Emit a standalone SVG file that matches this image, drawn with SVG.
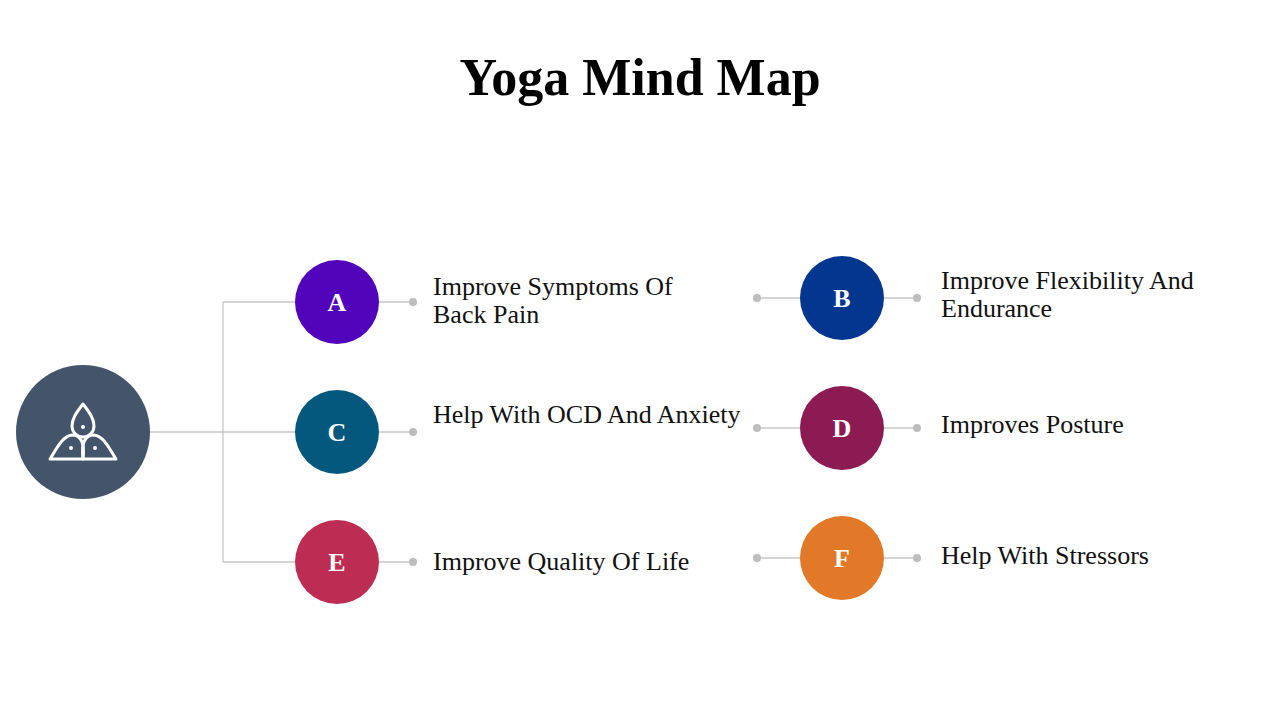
<svg xmlns="http://www.w3.org/2000/svg" width="1280" height="720" viewBox="0 0 1280 720">
<style>
.ln{stroke:#c8c8c8;stroke-width:1.3;fill:none}
.dt{fill:#bdbdbd}
.lt{font-family:"Liberation Serif",serif;font-weight:bold;font-size:26px;fill:#fff;text-anchor:middle}
.tx{font-family:"Liberation Serif",serif;font-size:26px;fill:#111}
</style>
<rect width="1280" height="720" fill="#fff"/>
<text x="640" y="95" text-anchor="middle" font-family="Liberation Serif,serif" font-weight="bold" font-size="52" fill="#000">Yoga Mind Map</text>
<g id="connectors">
<path class="ln" d="M150,432H296M223,302V562M223,302H296M223,562H296"/>
<path class="ln" d="M379,302H413M379,432H413M379,562H413M757,298H800M884,298H917M757,428H800M884,428H917M757,558H800M884,558H917"/>
<g class="dt"><circle cx="413" cy="302" r="4"/><circle cx="413" cy="432" r="4"/><circle cx="413" cy="562" r="4"/><circle cx="757" cy="298" r="4"/><circle cx="917" cy="298" r="4"/><circle cx="757" cy="428" r="4"/><circle cx="917" cy="428" r="4"/><circle cx="757" cy="558" r="4"/><circle cx="917" cy="558" r="4"/></g>
</g>
<g id="center">
<circle cx="83" cy="432" r="67" fill="#44546a"/>
<g fill="none" stroke="#fff" stroke-width="3" stroke-linejoin="round">
<path d="M83,404 C76,413 72,419 72,426 A11,11 0 0 0 94,426 C94,419 90,413 83,404Z"/>
<path d="M50,459 C56,450 62,436 72,435 C81,435 85,443 83,459 Z"/>
<path d="M116,459 C110,450 104,436 94,435 C85,435 81,443 83,459 Z"/>
</g>
<g fill="#fff"><circle cx="83" cy="427" r="2"/><circle cx="71" cy="448" r="2"/><circle cx="95" cy="448" r="2"/></g>
</g>
<g id="nA"><circle cx="337" cy="302" r="42" fill="#5204bb"/><text class="lt" x="337" y="311">A</text><text class="tx" x="433" y="295">Improve Symptoms Of</text><text class="tx" x="433" y="323">Back Pain</text></g>
<g id="nB"><circle cx="842" cy="298" r="42" fill="#03368f"/><text class="lt" x="842" y="307">B</text><text class="tx" x="941" y="289">Improve Flexibility And</text><text class="tx" x="941" y="317">Endurance</text></g>
<g id="nC"><circle cx="337" cy="432" r="42" fill="#04587e"/><text class="lt" x="337" y="441">C</text><text class="tx" x="433" y="423">Help With OCD And Anxiety</text></g>
<g id="nD"><circle cx="842" cy="428" r="42" fill="#8c1b54"/><text class="lt" x="842" y="437">D</text><text class="tx" x="941" y="433">Improves Posture</text></g>
<g id="nE"><circle cx="337" cy="562" r="42" fill="#bd2d53"/><text class="lt" x="337" y="571">E</text><text class="tx" x="433" y="570">Improve Quality Of Life</text></g>
<g id="nF"><circle cx="842" cy="558" r="42" fill="#e27928"/><text class="lt" x="842" y="567">F</text><text class="tx" x="941" y="564">Help With Stressors</text></g>
</svg>
